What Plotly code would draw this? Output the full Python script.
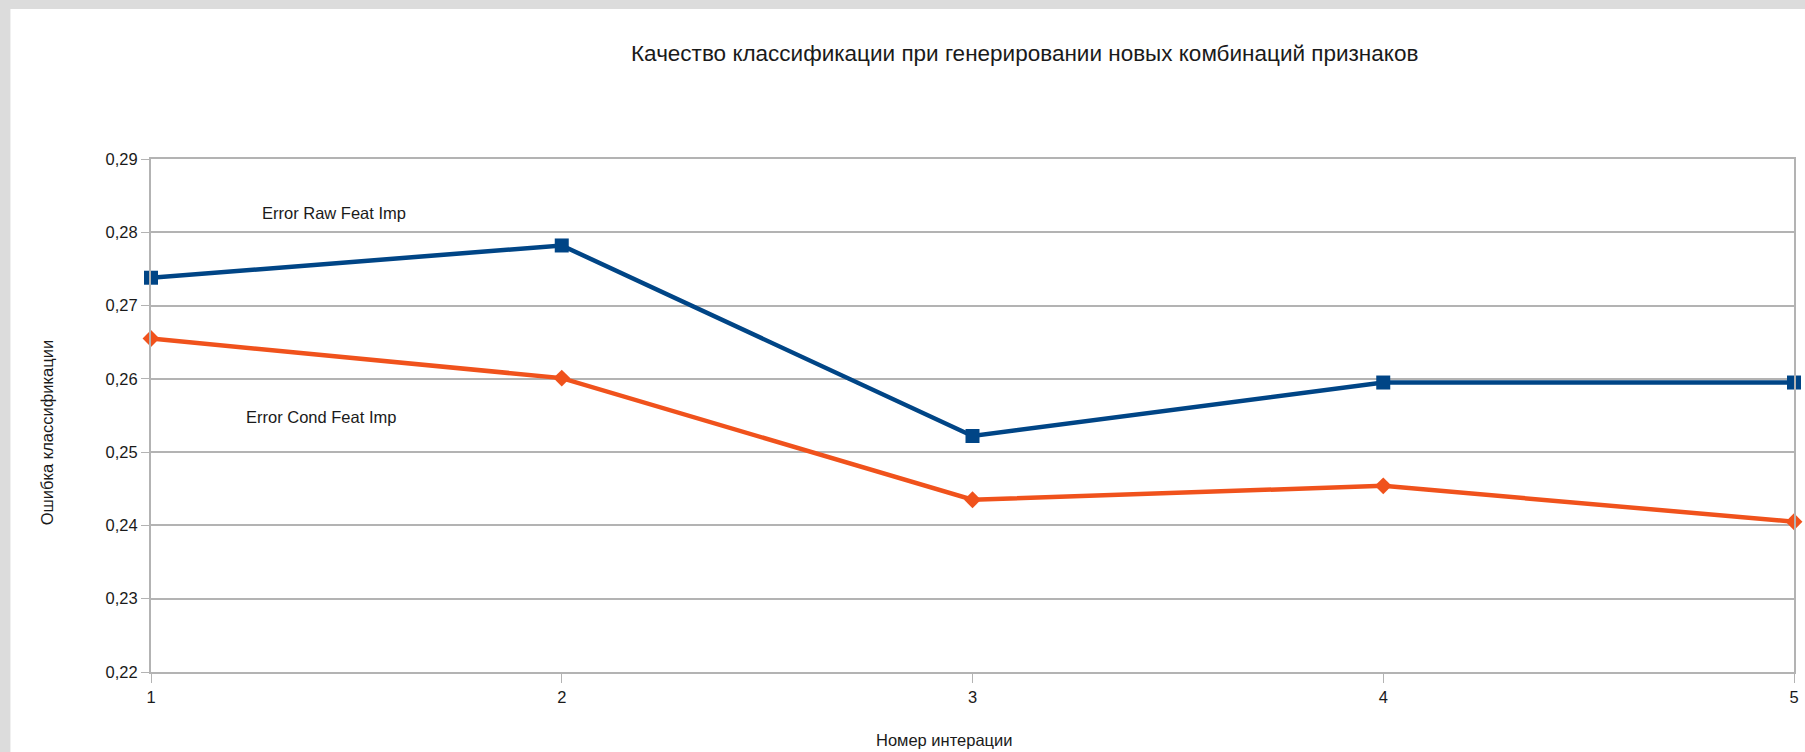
import plotly.graph_objects as go

# Iteration numbers and classification errors for the two feature-importance variants
iterations = [1, 2, 3, 4, 5]
error_raw = [0.2738, 0.2782, 0.2522, 0.2595, 0.2595]
error_cond = [0.2655, 0.2601, 0.2435, 0.2454, 0.2405]
y_ticks = [0.22, 0.23, 0.24, 0.25, 0.26, 0.27, 0.28, 0.29]

title_text = "Качество классификации при генерировании новых комбинаций признаков"
x_title = "Номер интерации"
y_title = "Ошибка классификации"
label_raw = "Error Raw Feat Imp"
label_cond = "Error Cond Feat Imp"

W, H = 1805, 752
L, R, T, B = 151, 6, 159, 80
pw, ph = W - L - R, H - T - B


def px(xp):
    return (xp - L) / pw


def py(yp):
    return (H - B - yp) / ph


FONT = "Liberation Sans, Arial, sans-serif"
GRID = "#b3b3b3"
TXT = 16.5

fig = go.Figure()
fig.add_trace(go.Scatter(
    x=iterations, y=error_raw, mode="lines+markers", name=label_raw,
    line=dict(color="#004586", width=4.5),
    marker=dict(symbol="square", size=14, color="#004586"),
    cliponaxis=False,
))
fig.add_trace(go.Scatter(
    x=iterations, y=error_cond, mode="lines+markers", name=label_cond,
    line=dict(color="#f0521c", width=4.5),
    marker=dict(symbol="diamond", size=13, color="#f0521c"),
    cliponaxis=False,
))

fig.update_layout(
    width=W, height=H,
    margin=dict(l=L, r=R, t=T, b=B),
    paper_bgcolor="#dcdcdc",
    plot_bgcolor="white",
    showlegend=False,
    separators=", ",
    font=dict(family=FONT, size=TXT, color="#1a1a1a"),
    xaxis=dict(
        range=[1, 5], tickvals=iterations, ticktext=[str(i) for i in iterations],
        showgrid=False, zeroline=False,
        showline=True, linecolor=GRID, linewidth=2, mirror=True,
        ticks="outside", ticklen=9, tickcolor=GRID, tickwidth=1,
        tickfont=dict(size=TXT),
    ),
    yaxis=dict(
        range=[0.22, 0.29], tickvals=y_ticks, tickformat=".2f",
        showgrid=True, gridcolor=GRID, gridwidth=1.5, zeroline=False,
        showline=True, linecolor=GRID, linewidth=2, mirror=True,
        ticks="outside", ticklen=8, tickcolor=GRID, tickwidth=1,
        tickfont=dict(size=TXT),
    ),
    shapes=[
        dict(type="rect", xref="paper", yref="paper",
             x0=px(10), x1=px(W + 5), y0=py(H + 5), y1=py(9),
             fillcolor="white", line=dict(width=0), layer="below"),
    ],
    annotations=[
        dict(text=title_text, xref="paper", yref="paper", x=px(1027), y=py(54),
             showarrow=False, xanchor="center", yanchor="middle",
             font=dict(size=22.5)),
        dict(text=x_title, xref="paper", yref="paper", x=px(947), y=py(740),
             showarrow=False, xanchor="center", yanchor="middle",
             font=dict(size=TXT)),
        dict(text=y_title, xref="paper", yref="paper", x=px(47), y=py(433),
             showarrow=False, xanchor="center", yanchor="middle", textangle=-90,
             font=dict(size=TXT)),
        dict(text=label_raw, xref="paper", yref="paper", x=px(335), y=py(213),
             showarrow=False, xanchor="center", yanchor="middle",
             font=dict(size=TXT)),
        dict(text=label_cond, xref="paper", yref="paper", x=px(322), y=py(417),
             showarrow=False, xanchor="center", yanchor="middle",
             font=dict(size=TXT)),
    ],
)

fig.write_html("out.html")
